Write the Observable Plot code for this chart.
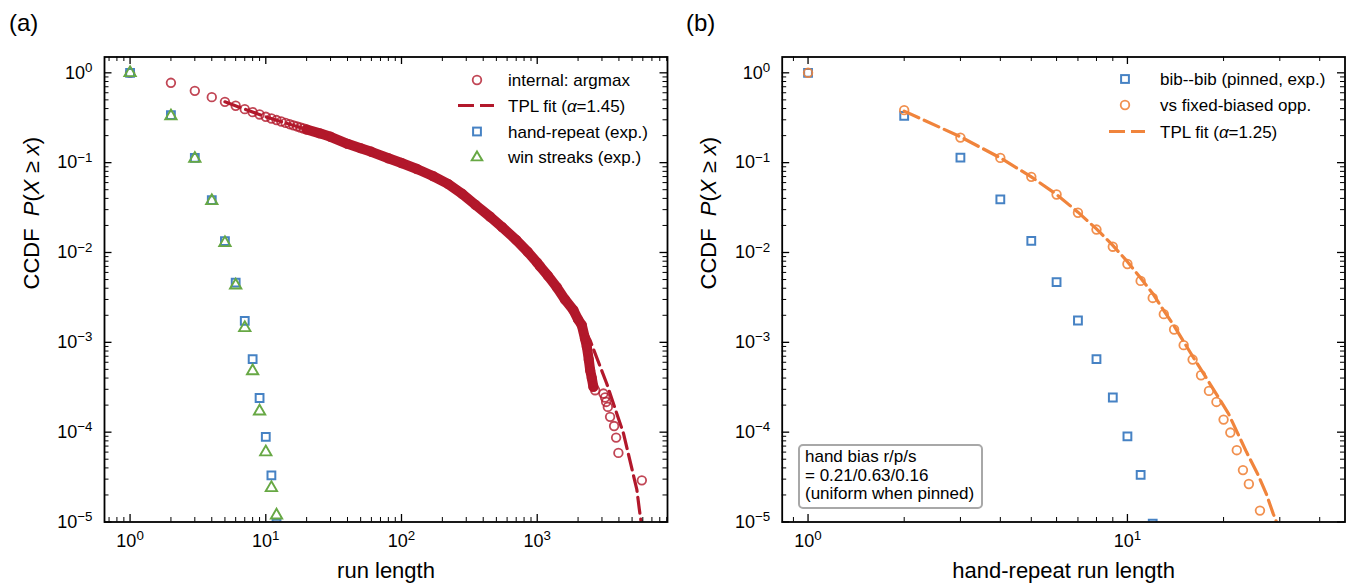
<!DOCTYPE html>
<html><head><meta charset="utf-8">
<script src="https://cdn.jsdelivr.net/npm/d3@7"></script>
<script src="https://cdn.jsdelivr.net/npm/@observablehq/plot@0.6"></script>
<style>
html,body{margin:0;padding:0;background:#fff;}
#wrap{position:relative;width:1346px;height:583px;overflow:hidden;font-family:"Liberation Sans",Arial,Helvetica,sans-serif;}
#wrap > svg{position:absolute;top:0;}
</style></head><body><div id="wrap"></div>
<script>
// ---------- data ----------
// Panel (a): internal argmax run lengths (CCDF)
const internalX = [1,2,3,4,5,6,7,8,9,10,11,12,13,14,15,16,17,18,19,20,25,30,40,50,60,80,100,130,170,220,280,350,450,550,700,850,1000,1050,1200,1394,1600,1849,2000,2132,2250,2322,2400,2455,2525,2594,2672,3076,3163,3221,3314,3443,3686,3814,3965,5900];
const internalY = [1.0,0.774,0.63,0.536,0.475,0.43,0.394,0.365,0.344,0.324,0.31,0.298,0.287,0.277,0.268,0.26,0.253,0.246,0.24,0.234,0.212,0.194,0.162,0.145,0.132,0.112,0.099,0.085,0.071,0.058,0.045,0.034,0.025,0.0192,0.0138,0.0102,0.0077,0.0070,0.0055,0.0041,0.0030,0.00228,0.0018,0.00155,0.0011,0.00089,0.00064,0.00049,0.0004,0.00032,0.000293,0.000269,0.000243,0.000217,0.000191,0.000148,0.000117,0.000087,0.0000588,0.0000291];
// Panel (a): TPL fit (alpha = 1.45)
const fitAX = [5,7,10,15,20,30,50,100,170,280,450,700,1000,1394,1849,2454,3250,4329,5420,5650,5830];
const fitAY = [0.475,0.394,0.324,0.268,0.234,0.194,0.145,0.099,0.071,0.045,0.025,0.0138,0.0077,0.0041,0.0024,0.00105,0.000348,0.000096,0.000023,0.000014,0.00001];
// Panel (a): hand-repeat (exp.) and win streaks (exp.)
const handX = [1,2,3,4,5,6,7,8,9,10,11,12];
const handY = [1.0,0.338,0.113,0.0382,0.0134,0.00463,0.00173,0.00065,0.00024,0.0000885,0.0000331,0.0000096];
const winX = [1,2,3,4,5,6,7,8,9,10,11,12];
const winY = [1.0,0.33,0.111,0.0376,0.0128,0.00432,0.00145,0.00048,0.000171,0.00006,0.000024,0.0000119];
// Panel (b): bib--bib (pinned, exp.)
const bibX = [1,2,3,4,5,6,7,8,9,10,11,12];
const bibY = [1.0,0.332,0.114,0.039,0.0135,0.00467,0.00175,0.00065,0.000243,0.00009,0.0000334,0.0000096];
// Panel (b): vs fixed-biased opponent
const oppX = [1,2,3,4,5,6,7,8,9,10,11,12,13,14,15,16,17,18,19,20,21,22,23,24,26];
const oppY = [1.0,0.384,0.19,0.113,0.0695,0.0442,0.0277,0.018,0.0116,0.00745,0.00483,0.00312,0.00206,0.00139,0.00093,0.000643,0.00043,0.000288,0.000217,0.000138,0.000099,0.000063,0.0000378,0.0000265,0.0000134];
// Panel (b): TPL fit (alpha = 1.25)
const fitBX = [2,3,4,5,6,7,8,9,10,11,12,13,14,16,18,20.7,23.6,25.7,27.2,28.6,29.3];
const fitBY = [0.375,0.194,0.113,0.0695,0.0443,0.0281,0.0183,0.012,0.0079,0.0052,0.0035,0.00225,0.00152,0.0007,0.00036,0.000162,0.00006,0.000033,0.0000207,0.0000124,0.00001];
// axes
const yMajor = [1, 0.1, 0.01, 0.001, 0.0001, 0.00001];
const xMajorA = [1, 10, 100, 1000];
const xMajorB = [1, 10];
const yDomain = [1e-5, 1.5];
const xDomainA = [0.648, 9120];
const xDomainB = [0.83, 48];
const xLabelA = "run length";
const xLabelB = "hand-repeat run length";
const yLabel = "CCDF  P(X \u2265 x)";

// ---------- style ----------
const red = "#b2182b", blue = "#4682c4", green = "#67a844", orange = "#f0843c";
const FONT = '"Liberation Sans", Arial, Helvetica, sans-serif';
const H = 583, MT = 56.5, MB = 61.5;

const pts = (xs, ys) => xs.map((x, i) => ({x, y: ys[i]}));
function minorTicks([lo, hi]) {
  const out = [];
  for (let e = Math.floor(Math.log10(lo)); e <= Math.ceil(Math.log10(hi)); e++)
    for (let m = 2; m <= 9; m++) { const v = m * Math.pow(10, e); if (v > lo && v < hi) out.push(v); }
  return out;
}
const fmt = d => `10^${Math.round(Math.log10(d))}`;

function panel({width, ml, mr, xDomain, xMajor, xLabel, data}) {
  const IW = width - ml - mr, IH = H - MT - MB;
  const xMinor = minorTicks(xDomain), yMinor = minorTicks(yDomain);
  const tk = {stroke: "black"};
  const svg = Plot.plot({
    width, height: H, marginLeft: ml, marginRight: mr, marginTop: MT, marginBottom: MB,
    style: {fontFamily: FONT, fontSize: "17px", background: "white", color: "black", overflow: "visible"},
    x: {type: "log", domain: xDomain},
    y: {type: "log", domain: yDomain},
    marks: [
      ...data,
      Plot.ruleX(xMajor, {...tk, strokeWidth: 1.3, insetTop: IH - 7.5}),
      Plot.ruleX(xMajor, {...tk, strokeWidth: 1.3, insetBottom: IH - 7.5}),
      Plot.ruleX(xMinor, {...tk, strokeWidth: 1, insetTop: IH - 4.5}),
      Plot.ruleX(xMinor, {...tk, strokeWidth: 1, insetBottom: IH - 4.5}),
      Plot.ruleY(yMajor, {...tk, strokeWidth: 1.3, insetRight: IW - 7.5}),
      Plot.ruleY(yMajor, {...tk, strokeWidth: 1.3, insetLeft: IW - 7.5}),
      Plot.ruleY(yMinor, {...tk, strokeWidth: 1, insetRight: IW - 4.5}),
      Plot.ruleY(yMinor, {...tk, strokeWidth: 1, insetLeft: IW - 4.5}),
      Plot.axisX(xMajor, {anchor: "bottom", tickSize: 0, tickPadding: 12, tickFormat: fmt, fontSize: 18, label: null}),
      Plot.axisY(yMajor, {anchor: "left", tickSize: 0, tickPadding: 12, tickFormat: fmt, fontSize: 18, label: null}),
      Plot.text([xLabel], {frameAnchor: "bottom", dy: 56, fontSize: 22}),
      Plot.text([yLabel], {frameAnchor: "left", rotate: -90, dx: -73, fontSize: 22}),
      Plot.frame({stroke: "black", strokeWidth: 1.8})
    ]
  });
  const NS = "http://www.w3.org/2000/svg";
  svg.querySelectorAll("text").forEach(t => {
    const s = t.textContent;
    const m = s.match(/^10\^(.*)$/);
    if (m) {
      t.textContent = "10";
      const ts = document.createElementNS(NS, "tspan");
      ts.setAttribute("dy", "-0.5em"); ts.setAttribute("font-size", "0.74em");
      ts.textContent = m[1].replace("-", "\u2212");
      t.appendChild(ts);
    } else if (s === yLabel) {
      t.textContent = "";
      t.setAttribute("xml:space", "preserve");
      t.style.whiteSpace = "pre";
      [["CCDF\u00a0\u00a0", false], ["P", true], ["(", false], ["X", true], ["\u00a0\u2265\u00a0", false], ["x", true], [")", false]].forEach(([str, it]) => {
        const ts = document.createElementNS(NS, "tspan");
        if (it) { ts.setAttribute("font-style", "italic"); ts.style.fontStyle = "italic"; }
        ts.textContent = str; t.appendChild(ts);
      });
    }
  });
  return svg;
}

const dotCircle = (xs, ys, color, op) => Plot.dot(pts(xs, ys), {x: "x", y: "y", r: 4.3, stroke: color, strokeOpacity: op, strokeWidth: 1.8, fill: "none", clip: true});
const dotSquare = (xs, ys, color) => Plot.dot(pts(xs, ys), {x: "x", y: "y", r: 4.4, symbol: d3.symbolSquare, stroke: color, strokeWidth: 2, fill: "white", clip: true});
const dotTri = (xs, ys, color) => Plot.dot(pts(xs, ys), {x: "x", y: "y", r: 4.2, symbol: d3.symbolTriangle, stroke: color, strokeWidth: 1.9, fill: "none", clip: true});
const dashLine = (xs, ys, color) => Plot.line(pts(xs, ys), {x: "x", y: "y", stroke: color, strokeWidth: 3.2, strokeDasharray: "16,6", clip: true});

const band = pts(internalX, internalY).filter(d => d.x >= 20 && d.x <= 2600);

const svgA = panel({
  width: 680, ml: 104, mr: 13, xDomain: xDomainA, xMajor: xMajorA, xLabel: xLabelA,
  data: [
    Plot.line(band, {x: "x", y: "y", stroke: red, strokeWidth: 10, strokeLinecap: "round", strokeLinejoin: "round", clip: true}),
    dotCircle(internalX, internalY, red, 0.8),
    dashLine(fitAX, fitAY, red),
    dotSquare(handX, handY, blue),
    dotTri(winX, winY, green)
  ]
});
svgA.style.left = "0px";

const svgB = panel({
  width: 666, ml: 101.7, mr: 1.5, xDomain: xDomainB, xMajor: xMajorB, xLabel: xLabelB,
  data: [
    dotSquare(bibX, bibY, blue),
    dotCircle(oppX, oppY, orange, 0.9),
    dashLine(fitBX, fitBY, orange)
  ]
});
svgB.style.left = "680px";

const wrap = document.getElementById("wrap");
wrap.appendChild(svgA);
wrap.appendChild(svgB);

// ---------- legends, panel labels, annotation (overlay) ----------
const sq = (cx, cy, c) => `<rect x="${cx-3.9}" y="${cy-3.9}" width="7.8" height="7.8" fill="white" stroke="${c}" stroke-width="2"/>`;
const ci = (cx, cy, c, op) => `<circle cx="${cx}" cy="${cy}" r="4.3" fill="none" stroke="${c}" stroke-opacity="${op}" stroke-width="1.8"/>`;
const tr = (cx, cy, c) => `<path d="M${cx},${cy-5.6}L${cx+5.3},${cy+3.4}L${cx-5.3},${cy+3.4}Z" fill="none" stroke="${c}" stroke-width="1.9"/>`;
const ds = (x1, x2, cy, c) => `<line x1="${x1}" x2="${x2}" y1="${cy}" y2="${cy}" stroke="${c}" stroke-width="3.2" stroke-dasharray="16,6"/>`;
const tx = (x, y, s) => `<text x="${x}" y="${y}">${s}</text>`;
const overlay = `
<svg width="1346" height="583" style="position:absolute;left:0;top:0;pointer-events:none;font-family:${FONT.replace(/"/g, "'")};font-size:17px;fill:black">
  <text x="9" y="31" font-size="24">(a)</text>
  <text x="686" y="31" font-size="24">(b)</text>
  ${ci(477, 80, red, 0.8)}${tx(508, 86, "internal: argmax")}
  ${ds(458, 494, 105.5, red)}${tx(508, 111.5, 'TPL fit (<tspan font-style="italic">α</tspan>=1.45)')}
  ${sq(477, 131.5, blue)}${tx(508, 137.5, "hand-repeat (exp.)")}
  ${tr(477, 157, green)}${tx(508, 163, "win streaks (exp.)")}
  ${sq(1125, 79, blue)}${tx(1160, 85, "bib--bib (pinned, exp.)")}
  ${ci(1125, 105, orange, 0.9)}${tx(1160, 111, "vs fixed-biased opp.")}
  ${ds(1109, 1145, 131.5, orange)}${tx(1160, 137.5, 'TPL fit (<tspan font-style="italic">α</tspan>=1.25)')}
  <rect x="799" y="445" width="183" height="63" rx="4" fill="white" stroke="#a8a8a8" stroke-width="2"/>
  ${tx(805, 462, "hand bias r/p/s")}
  ${tx(805, 480.5, "= 0.21/0.63/0.16")}
  ${tx(805, 499, "(uniform when pinned)")}
</svg>`;
wrap.insertAdjacentHTML("beforeend", overlay);
</script>
</body></html>
